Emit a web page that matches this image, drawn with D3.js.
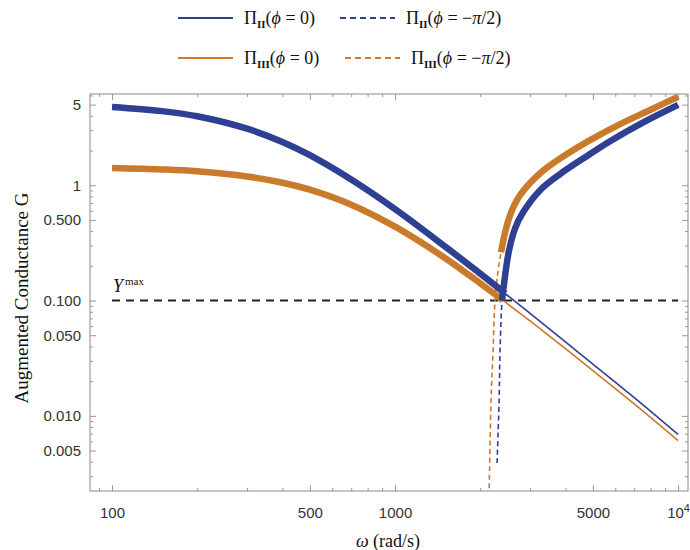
<!DOCTYPE html>
<html>
<head>
<meta charset="utf-8">
<title>Augmented Conductance</title>
<script src="https://cdnjs.cloudflare.com/ajax/libs/d3/7.8.5/d3.min.js"></script>
<style>
  body { margin: 0; background: #fff; }
  .tick text { font-family: "Liberation Sans", Arial, sans-serif; font-size: 15px; fill: #333; }
  .serif { font-family: "Liberation Serif", "DejaVu Serif", serif; fill: #111; }
</style>
</head>
<body>
<svg id="chart" width="690" height="550"></svg>
<script>
// phi = 0 curves
var omega0 = [100, 150, 200, 300, 400, 500, 700, 1000, 1500, 2000, 2400, 2450, 3000, 4000, 5000, 7000, 10000];
var gII0   = [4.77, 4.39, 3.96, 3.09, 2.37, 1.82, 1.12, 0.62, 0.295, 0.171, 0.120, 0.115, 0.0773, 0.0437, 0.0281, 0.0144, 0.0069];
var gIII0  = [1.41, 1.37, 1.32, 1.19, 1.05, 0.915, 0.678, 0.437, 0.234, 0.141, 0.101, 0.097, 0.0665, 0.0382, 0.0247, 0.0127, 0.0061];

// phi = -pi/2 curves
var omegaIIpi = [2293, 2331, 2350, 2388, 2448, 2528, 2655, 2834, 3254, 3828, 4693, 5750, 7340, 10000];
var gIIpi     = [0.0039, 0.0134, 0.0368, 0.100, 0.165, 0.272, 0.423, 0.582, 0.905, 1.25, 1.75, 2.41, 3.39, 4.97];
var omegaIIIpi = [2131, 2149, 2183, 2220, 2255, 2312, 2369, 2448, 2572, 2765, 3254, 3988, 4887, 6237, 7962, 10000];
var gIIIpi     = [0.0012, 0.00223, 0.0134, 0.037, 0.100, 0.182, 0.262, 0.390, 0.582, 0.819, 1.27, 1.82, 2.46, 3.39, 4.49, 5.85];

// frequency range where each curve is drawn heavy
var heavyII0 = [100, 2450];
var heavyIII0 = [100, 2400];
var heavyIIpi = [2388, 10000];
var heavyIIIpi = [2369, 10000];

var yMax = 0.1;

var yTicks = [0.005, 0.01, 0.05, 0.1, 0.5, 1, 5];
var yTickLabels = ["0.005", "0.010", "0.050", "0.100", "0.500", "1", "5"];
var yMinor = [0.003, 0.004, 0.006, 0.007, 0.008, 0.009, 0.02, 0.03, 0.04, 0.06, 0.07, 0.08, 0.09,
              0.2, 0.3, 0.4, 0.6, 0.7, 0.8, 0.9, 2, 3, 4, 6];
var xTicks = [100, 500, 1000, 5000, 10000];
var xTickLabels = ["100", "500", "1000", "5000", "10^4"];
var xMinor = [90, 200, 300, 400, 600, 700, 800, 900, 2000, 3000, 4000, 6000, 7000, 8000, 9000];

var blue = "#2f3f92", orange = "#c97a2a";

var pL = 90, pR = 688, pT = 94, pB = 491;
var svg = d3.select("#chart");

var x = d3.scaleLog().domain([83.6, 10840]).range([pL, pR]);
var y = d3.scaleLog().domain([0.00223, 6.18]).range([pB, pT]);

svg.append("defs").append("clipPath").attr("id", "plot")
  .append("rect").attr("x", pL).attr("y", pT).attr("width", pR - pL).attr("height", pB - pT);

// frame ticks
function minorTicks(axis, vals) {
  return axis.tickValues(vals).tickFormat("").tickSizeInner(-3).tickSizeOuter(0);
}
svg.append("g").attr("transform", "translate(" + pL + ",0)")
  .call(d3.axisLeft(y).tickValues(yTicks).tickFormat(function(d, i) { return yTickLabels[i]; })
    .tickSizeInner(-6).tickSizeOuter(0).tickPadding(9));
svg.append("g").attr("transform", "translate(" + pL + ",0)").call(minorTicks(d3.axisLeft(y), yMinor));
svg.append("g").attr("transform", "translate(" + pR + ",0)")
  .call(d3.axisRight(y).tickValues(yTicks).tickFormat("").tickSizeInner(-6).tickSizeOuter(0));
svg.append("g").attr("transform", "translate(" + pR + ",0)").call(minorTicks(d3.axisRight(y), yMinor));

var gB = svg.append("g").attr("transform", "translate(0," + pB + ")")
  .call(d3.axisBottom(x).tickValues(xTicks).tickFormat("").tickSizeInner(-6).tickSizeOuter(0));
svg.append("g").attr("transform", "translate(0," + pB + ")").call(minorTicks(d3.axisBottom(x), xMinor));
svg.append("g").attr("transform", "translate(0," + pT + ")")
  .call(d3.axisTop(x).tickValues(xTicks).tickFormat("").tickSizeInner(-6).tickSizeOuter(0));
svg.append("g").attr("transform", "translate(0," + pT + ")").call(minorTicks(d3.axisTop(x), xMinor));

svg.selectAll(".domain").remove();
svg.selectAll(".tick line").attr("stroke", "#999");

// x tick labels (with the 10^4 superscript)
gB.selectAll(".tick").each(function(d, i) {
  var t = d3.select(this).append("text").attr("y", 22).attr("dy", "0.32em")
    .attr("text-anchor", "middle").attr("fill", "#333");
  var lab = xTickLabels[i];
  if (lab.indexOf("^") > 0) {
    var p = lab.split("^");
    t.append("tspan").text(p[0]);
    t.append("tspan").attr("dy", -6).style("font-size", "11px").text(p[1]);
  } else {
    t.text(lab);
  }
});

svg.append("rect").attr("x", pL).attr("y", pT).attr("width", pR - pL).attr("height", pB - pT)
  .attr("fill", "none").attr("stroke", "#8a8a8a").attr("stroke-width", 1);

var plot = svg.append("g").attr("clip-path", "url(#plot)");

var line = d3.line()
  .x(function(d) { return x(d[0]); })
  .y(function(d) { return y(d[1]); })
  .curve(d3.curveCatmullRom.alpha(0.5));

function pts(w, g) { return w.map(function(v, i) { return [v, g[i]]; }); }
function within(p, r) { return p.filter(function(d) { return d[0] >= r[0] && d[0] <= r[1]; }); }

var series = [
  { p: pts(omega0, gII0), heavy: heavyII0, color: blue, dash: null },
  { p: pts(omega0, gIII0), heavy: heavyIII0, color: orange, dash: null },
  { p: pts(omegaIIpi, gIIpi), heavy: heavyIIpi, color: blue, dash: "5,3.5" },
  { p: pts(omegaIIIpi, gIIIpi), heavy: heavyIIIpi, color: orange, dash: "5,3.5" }
];

// Y max reference
plot.append("path")
  .attr("d", line([[100, yMax], [10000, yMax]]))
  .attr("stroke", "#222").attr("stroke-width", 2).attr("stroke-dasharray", "8,6").attr("fill", "none");

series.forEach(function(s) {
  plot.append("path").attr("d", line(s.p))
    .attr("stroke", s.color).attr("stroke-width", 1.6).attr("fill", "none")
    .attr("stroke-dasharray", s.dash);
});
[1, 3, 0, 2].forEach(function(k) {
  var s = series[k];
  plot.append("path").attr("d", line(within(s.p, s.heavy)))
    .attr("stroke", s.color).attr("stroke-width", 6.5).attr("fill", "none")
    .attr("stroke-linecap", "butt");
});

// Y max label
var ym = svg.append("text").attr("class", "serif").attr("x", x(100) + 1).attr("y", y(yMax) - 9)
  .style("font-size", "18px");
ym.append("tspan").style("font-style", "italic").text("Y");
ym.append("tspan").attr("dy", -7).attr("dx", 2).style("font-size", "11px").text("max");

// axis titles
svg.append("text").attr("class", "serif")
  .attr("transform", "translate(28,298) rotate(-90)")
  .attr("text-anchor", "middle").style("font-size", "19px").text("Augmented Conductance G");
var xt = svg.append("text").attr("class", "serif").attr("x", 388).attr("y", 547)
  .attr("text-anchor", "middle").style("font-size", "18px");
xt.append("tspan").style("font-style", "italic").text("\u03c9");
xt.append("tspan").text(" (rad/s)");

// legend
var legend = [
  { sub: "II", val: "0", color: blue, dash: null, x: 178, y: 18 },
  { sub: "II", val: "-", color: blue, dash: "6,4", x: 340, y: 18 },
  { sub: "III", val: "0", color: orange, dash: null, x: 178, y: 58 },
  { sub: "III", val: "-", color: orange, dash: "6,4", x: 345, y: 58 }
];
legend.forEach(function(l) {
  svg.append("line").attr("x1", l.x).attr("x2", l.x + 55).attr("y1", l.y).attr("y2", l.y)
    .attr("stroke", l.color).attr("stroke-width", 2).attr("stroke-dasharray", l.dash);
  var t = svg.append("text").attr("class", "serif").attr("x", l.x + 66).attr("y", l.y + 6)
    .style("font-size", "18px");
  t.append("tspan").text("\u03a0");
  t.append("tspan").attr("dy", 4).style("font-size", "11px").style("font-weight", "bold").text(l.sub);
  t.append("tspan").attr("dy", -4).text("(");
  t.append("tspan").style("font-style", "italic").text("\u03d5");
  t.append("tspan").text(" = ");
  if (l.val === "0") {
    t.append("tspan").text("0)");
  } else {
    t.append("tspan").text("\u2212");
    t.append("tspan").style("font-style", "italic").text("\u03c0");
    t.append("tspan").text("/2)");
  }
});
</script>
</body>
</html>
